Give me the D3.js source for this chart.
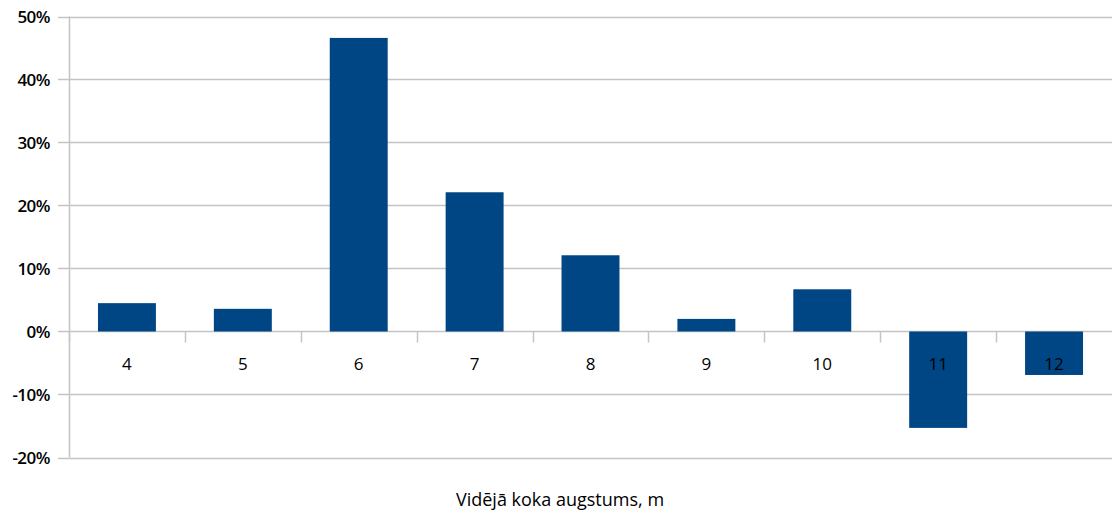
<!DOCTYPE html>
<html>
<head>
<meta charset="utf-8">
<script src="https://cdn.jsdelivr.net/npm/d3@7"></script>
<style>
  body { margin: 0; background: #fff; }
  svg text { font-family: "Open Sans", "DejaVu Sans", sans-serif; fill: #000; }
</style>
</head>
<body>
<div id="chart"></div>
<script>

// data

var categories = ["4", "5", "6", "7", "8", "9", "10", "11", "12"];
var values = [0.045, 0.036, 0.466, 0.221, 0.121, 0.020, 0.067, -0.153, -0.069];
var yTicks = [-0.2, -0.1, 0, 0.1, 0.2, 0.3, 0.4, 0.5];
var xTitle = "Vidējā koka augstums, m";

// sizes

var width = 1112,
    height = 516,
    marginLeft = 69,
    marginRight = 0,
    marginTop = 16.5,
    plotBottom = 457.5;

var svg = d3.select("#chart").append("svg")
  .attr("width", width)
  .attr("height", height);

var x = d3.scaleBand()
  .domain(categories)
  .range([marginLeft, width - marginRight])
  .paddingInner(0.5)
  .paddingOuter(0.25);

var y = d3.scaleLinear()
  .domain([-0.2, 0.5])
  .range([plotBottom, marginTop]);

// plain hyphen for negatives, as in the original
var formatPer = function(d) { return d3.format(".0%")(d).replace("\u2212", "-"); };

// gridlines

svg.append("g")
  .selectAll("line")
  .data(yTicks)
  .enter()
    .append("line")
      .attr("x1", marginLeft - 11)
      .attr("x2", width)
      .attr("y1", function(d) { return Math.round(y(d)) + 0.5; })
      .attr("y2", function(d) { return Math.round(y(d)) + 0.5; })
      .attr("stroke", "#c4c4c4")
      .attr("stroke-width", 1.5);

// vertical axis line

svg.append("line")
  .attr("x1", marginLeft + 0.5)
  .attr("x2", marginLeft + 0.5)
  .attr("y1", y(0.5))
  .attr("y2", y(-0.2))
  .attr("stroke", "#c4c4c4")
  .attr("stroke-width", 1.5);

// bars

svg.append("g")
  .selectAll("rect")
  .data(values)
  .enter()
    .append("rect")
      .attr("x", function(d, i) { return x(categories[i]); })
      .attr("width", x.bandwidth())
      .attr("y", function(d) { return y(Math.max(0, d)); })
      .attr("height", function(d) { return Math.abs(y(d) - y(0)); })
      .attr("fill", "#004584");

// category ticks on the zero line

var step = x.step();
svg.append("g")
  .selectAll("line")
  .data(categories)
  .enter()
    .append("line")
      .attr("x1", function(d) { return Math.round(x(d) - step * 0.25) + 0.5; })
      .attr("x2", function(d) { return Math.round(x(d) - step * 0.25) + 0.5; })
      .attr("y1", y(0))
      .attr("y2", y(0) + 11)
      .attr("stroke", "#c4c4c4")
      .attr("stroke-width", 1.5);

// y labels

svg.append("g")
  .selectAll("text")
  .data(yTicks)
  .enter()
    .append("text")
      .attr("x", 50)
      .attr("y", function(d) { return y(d); })
      .attr("dy", "0.36em")
      .style("text-anchor", "end")
      .style("font-size", "17px")
      .style("font-weight", "600")
      .style("letter-spacing", "-0.5px")
      .text(function(d) { return formatPer(d); });

// category labels

svg.append("g")
  .selectAll("text")
  .data(categories)
  .enter()
    .append("text")
      .attr("x", function(d) { return x(d) + x.bandwidth() / 2; })
      .attr("y", y(0) + 32)
      .attr("dy", "0.36em")
      .style("text-anchor", "middle")
      .style("font-size", "17px")
      .text(function(d) { return d; });

// axis title

svg.append("text")
  .attr("x", 560)
  .attr("y", 500)
  .attr("dy", "0.36em")
  .style("text-anchor", "middle")
  .style("font-size", "18px")
  .text(xTitle);

</script>
</body>
</html>
